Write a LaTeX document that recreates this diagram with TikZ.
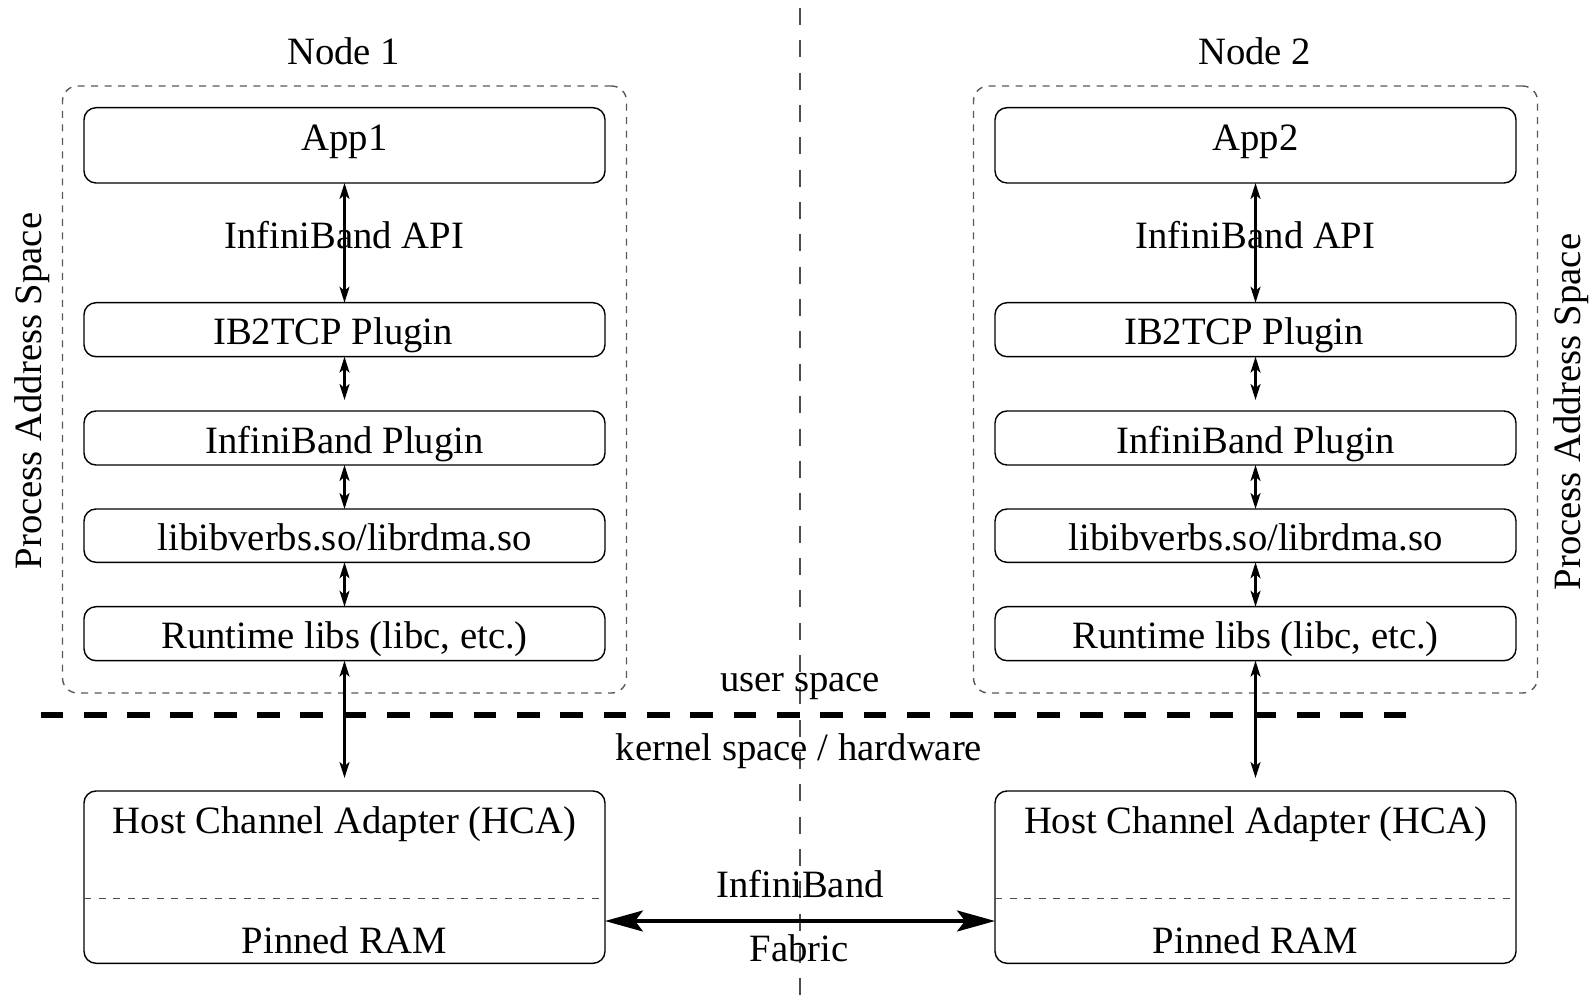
\documentclass[tikz,border=0pt]{standalone}
\usepackage{fontspec}
\setmainfont{Liberation Serif}
\usetikzlibrary{arrows.meta,fit}
\begin{document}
\begin{tikzpicture}[x=0.01cm,y=-0.01cm,
  every node/.style={font=\fontsize{11}{13}\selectfont, inner sep=0pt, outer sep=0pt},
  txt/.style={anchor=base},
  layer/.style={draw, line width=0.4pt, rounded corners=0.12cm, fit={#1}},
  procspace/.style={draw=black!65, line width=0.4pt, dash pattern=on 0.07cm off 0.065cm, rounded corners=0.15cm, fit={#1}},
  divider/.style={draw=black!70, line width=0.4pt, dash pattern=on 0.07cm off 0.075cm},
  midline/.style={draw=black!70, line width=0.45pt, dash pattern=on 0.17cm off 0.1533cm},
  userkernel/.style={line width=1.9pt, dash pattern=on 0.227cm off 0.206cm},
  link/.style={line width=0.6pt, {Stealth[length=0.16cm,width=0.1cm,inset=0.04cm]}-{Stealth[length=0.16cm,width=0.1cm,inset=0.04cm]}},
  fabric/.style={line width=0.95pt, {Stealth[length=0.38cm,width=0.21cm,inset=0.08cm]}-{Stealth[length=0.38cm,width=0.21cm,inset=0.08cm]}}
]
\useasboundingbox (0,0) rectangle (1589,995);

% middle separator between the two nodes
\coordinate (mtop) at (800,8);
\coordinate (mbot) at (800,995);
\draw[midline] (mtop) -- (mbot);

% one software stack per node
\foreach \c/\x in {1/344.5, 2/1255.5} {
  \node[txt] (title\c) at (\x-1,64.3) {Node \c};
  \node[procspace={(\x-282,86) (\x+282,693)}] (proc\c) {};

  \node[layer={(\x-260.5,107.7) (\x+260.5,183)}] (app\c) {};
  \node[txt] (appt\c) at (\x,151) {App\c};
  \node[txt] (api\c) at (\x,249) {InfiniBand API};

  \node[layer={(\x-260.5,302.7) (\x+260.5,356.7)}] (tcp\c) {};
  \node[txt] (tcpt\c) at (\x-11.5,345) {IB2TCP Plugin};

  \node[layer={(\x-260.5,411) (\x+260.5,465)}] (ibp\c) {};
  \node[txt] (ibpt\c) at (\x,454) {InfiniBand Plugin};

  \node[layer={(\x-260.5,509) (\x+260.5,562.3)}] (verbs\c) {};
  \node[txt] (verbst\c) at (\x,550.7) {libibverbs.so/librdma.so};

  \node[layer={(\x-260.5,606.7) (\x+260.5,660.7)}] (rt\c) {};
  \node[txt] (rtt\c) at (\x,648.3) {Runtime libs (libc, etc.)};

  \node[layer={(\x-260.5,791) (\x+260.5,963.3)}] (hca\c) {};
  \node[txt] (hcat\c) at (\x,833.3) {Host Channel Adapter (HCA)};
  \node[txt] (ram\c) at (\x,953.3) {Pinned RAM};
  \coordinate (div\c) at (\x,898.3);
  \draw[divider] (hca\c.west |- div\c) -- (hca\c.east |- div\c);

  \draw[link] (app\c) -- (tcp\c);
  \draw[link, shorten >=0.11cm] (tcp\c) -- (ibp\c);
  \draw[link] (ibp\c) -- (verbs\c);
  \draw[link] (verbs\c) -- (rt\c);
  \draw[link, shorten >=0.13cm] (rt\c) -- (hca\c);
}

% user / kernel boundary
\coordinate (uk1) at (40.5,715);
\coordinate (uk2) at (1408.6,715);
\draw[userkernel] (uk1) -- (uk2);
\node[txt] (user) at (800,691.7) {user space};
\node[txt] (kernel) at (799,760) {kernel space / hardware};

% fabric link between the adapters
\coordinate (fab) at (800,921);
\draw[fabric] (hca1.east |- fab) -- (hca2.west |- fab);
\node[txt] (ibf) at (800,897.3) {InfiniBand};
\node[txt] (fabt) at (799,961.7) {Fabric};

% address space labels
\node[txt, rotate=90] (pas1) at (41.7,391) {Process Address Space};
\node[txt, rotate=90] (pas2) at (1580,412) {Process Address Space};
\end{tikzpicture}
\end{document}
